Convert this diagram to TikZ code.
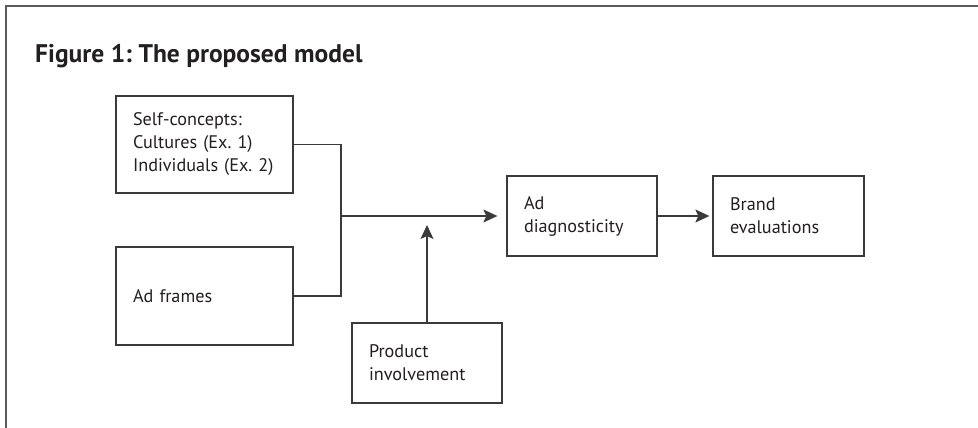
\documentclass[tikz,border=0pt]{standalone}
\usepackage{fontspec}
\setmainfont{PT Sans}
\usetikzlibrary{arrows.meta}
\definecolor{ink}{HTML}{231F20}
\definecolor{linec}{HTML}{3A3A3A}
\definecolor{framec}{HTML}{5A5A5A}
\frenchspacing
\begin{document}
\begin{tikzpicture}[x=1pt,y=-1pt,
  box/.style={draw=linec, line width=1.3pt, rectangle, inner xsep=17pt, inner ysep=0pt,
    align=left, text=ink, font=\fontsize{18.2}{23}\selectfont, anchor=center},
  arr/.style={draw=linec, line width=1.3pt, -{Stealth[length=14pt,width=13pt,inset=3pt]}},
  conn/.style={draw=linec, line width=1.3pt}]
\useasboundingbox (0,0) rectangle (978,428);
\fill[white] (0,0) rectangle (978,428);
\draw[framec, line width=2pt] (978,6) -- (5.5,6) -- (5.5,428);
\node[anchor=base west, inner sep=0pt, text=ink, font=\fontsize{25.5}{30}\selectfont\bfseries] (title) at (35,63) {Figure 1: The proposed model};
\node[box, text width=143pt, minimum height=97pt] (self) at (204.5,144.5) {Self-concepts:\\Cultures (Ex. 1)\\Individuals (Ex. 2)};
\node[box, text width=143pt, minimum height=98pt] (frames) at (204.5,296) {Ad frames};
\node[box, text width=116pt, minimum height=80pt] (prod) at (427,363) {Product\\involvement};
\node[box, text width=116pt, minimum height=80pt] (diag) at (582,216) {Ad\\diagnosticity};
\node[box, text width=117pt, minimum height=80pt] (brand) at (788.5,216) {Brand\\evaluations};
\coordinate (join) at (341,216);
\draw[conn] (self.east) -| (join) |- (frames.east);
\draw[arr, shorten >=9pt] (join) -- (diag.west);
\draw[arr, shorten >=9pt] (prod.north) -- (prod.north |- join);
\draw[arr, shorten >=3pt] (diag.east) -- (brand.west);
\end{tikzpicture}
\end{document}
